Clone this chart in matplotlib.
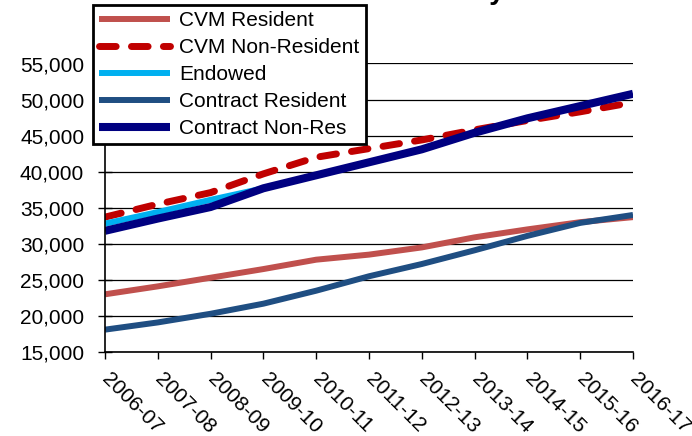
import numpy as np
import matplotlib.pyplot as plt

plt.rcParams['font.family'] = ['Liberation Sans', 'DejaVu Sans']

years = ["2006-07", "2007-08", "2008-09", "2009-10", "2010-11", "2011-12",
         "2012-13", "2013-14", "2014-15", "2015-16", "2016-17"]

cvm_res = [23000, 24100, 25300, 26500, 27800, 28500, 29500, 30900, 32000, 33000, 33700]
cvm_nonres = [33700, 35500, 37100, 39700, 42000, 43200, 44400, 45800, 47100, 48300, 49600]
endowed = [32800, 34400, 36100, 37700]
contract_res = [18100, 19100, 20300, 21700, 23500, 25500, 27200, 29100, 31100, 32900, 34000]
contract_nonres = [31800, 33500, 35100, 37700, 39500, 41300, 43100, 45400, 47400, 49100, 50800]

fig = plt.figure(figsize=(6.92, 4.36), dpi=100)
ax = fig.add_axes([105 / 692, 1 - 352 / 436, 528 / 692, (352 - 63.5) / 436])

x = np.arange(len(years))
ax.plot(x, cvm_res, color="#C0504D", lw=4.3, label="CVM Resident", solid_capstyle="butt")
ax.plot(x, cvm_nonres, color="#C00000", lw=5, label="CVM Non-Resident",
        dashes=(2.4, 2.2), dash_capstyle="round")
ax.plot(x[:len(endowed)], endowed, color="#00B0F0", lw=4.3, label="Endowed", solid_capstyle="butt")
ax.plot(x, contract_res, color="#1F4E82", lw=4.3, label="Contract Resident", solid_capstyle="butt")
ax.plot(x, contract_nonres, color="#000080", lw=5.8, label="Contract Non-Res", solid_capstyle="butt")

ax.set_xlim(0, len(years) - 1)
ax.set_ylim(15000, 55000)
ax.set_yticks(np.arange(15000, 55001, 5000))
ax.yaxis.set_major_formatter(plt.FuncFormatter(lambda v, p: f"{int(v):,}"))
ax.set_xticks(x)
ax.set_xticklabels(years, rotation=-45, rotation_mode="anchor", ha="left", va="center")

ax.grid(axis="y", color="black", lw=0.9)
ax.set_axisbelow(True)
for s in ["top", "right"]:
    ax.spines[s].set_visible(False)
for s in ["left", "bottom"]:
    ax.spines[s].set_linewidth(1.2)
ax.tick_params(axis="y", direction="inout", length=10, width=1, labelsize=15, pad=10)
ax.tick_params(axis="x", direction="out", length=5, width=1, labelsize=15, pad=12)

# title, mostly cut off at the top of the picture
fig.text(505 / 692, 1 + 1 / 436, "Tuition History", fontsize=20, fontweight="bold",
         ha="right", va="baseline")

leg = ax.legend(loc="upper left", bbox_to_anchor=(93 / 692, 1 - 5 / 436),
                bbox_transform=fig.transFigure, fontsize=15, frameon=True,
                fancybox=False, edgecolor="black", framealpha=1, borderaxespad=0,
                handlelength=3.4, handletextpad=0.45, labelspacing=0.38, borderpad=0.3)
leg.get_frame().set_linewidth(2)

fig.savefig("out.png", dpi=100)
